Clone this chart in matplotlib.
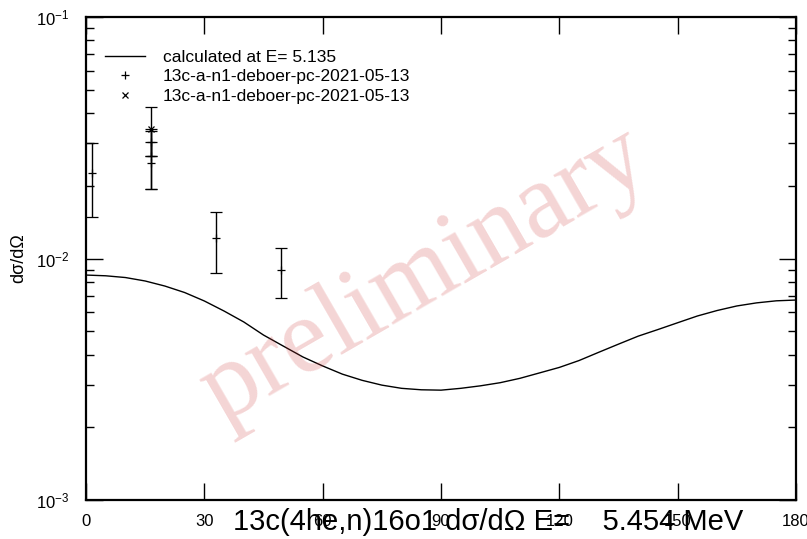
import matplotlib.pyplot as plt
from matplotlib.ticker import LogLocator, NullFormatter

plt.rcParams['font.family'] = ['Liberation Sans', 'DejaVu Sans']
plt.rcParams['mathtext.fontset'] = 'custom'
plt.rcParams['mathtext.rm'] = 'Liberation Sans'
plt.rcParams['mathtext.it'] = 'Liberation Sans:italic'
plt.rcParams['mathtext.bf'] = 'Liberation Sans:bold'

# calculated curve (angle in deg, dsigma/dOmega)
theta_calc = [0, 5, 10, 15, 20, 25, 30, 35, 40, 45, 50, 55, 60, 65, 70, 75,
              80, 85, 90, 95, 100, 105, 110, 115, 120, 125, 130, 135, 140,
              145, 150, 155, 160, 165, 170, 175, 180]
sig_calc = [8.54e-3, 8.48e-3, 8.34e-3, 8.07e-3, 7.69e-3, 7.23e-3, 6.67e-3,
            6.06e-3, 5.46e-3, 4.82e-3, 4.34e-3, 3.91e-3, 3.59e-3, 3.32e-3,
            3.13e-3, 2.99e-3, 2.90e-3, 2.86e-3, 2.85e-3, 2.90e-3, 2.97e-3,
            3.06e-3, 3.19e-3, 3.36e-3, 3.54e-3, 3.78e-3, 4.09e-3, 4.42e-3,
            4.77e-3, 5.08e-3, 5.42e-3, 5.78e-3, 6.09e-3, 6.36e-3, 6.55e-3,
            6.68e-3, 6.73e-3]

# measured data, set 1 (+)
theta_p = [1.6, 16.4, 16.4, 16.4, 33.0, 49.4]
sig_p = [0.0225, 0.0305, 0.0265, 0.0249, 0.01213, 0.00895]
err_p = [0.0076, 0.0040, 0.0071, 0.0055, 0.0034, 0.0021]

# measured data, set 2 (x)
theta_x = [16.4]
sig_x = [0.0344]
err_x = [0.0079]

fig = plt.figure(figsize=(8.07, 5.39), dpi=100)
ax = fig.add_axes([86 / 807, 39 / 539, 710 / 807, 483 / 539])

ax.plot(theta_calc, sig_calc, color='black', lw=1.0,
        label='calculated at E= 5.135')
ax.errorbar(theta_p, sig_p, yerr=err_p, fmt='+', color='black', ms=5.5,
            mew=0.9, elinewidth=1.0, capsize=4, capthick=1.0,
            label='13c-a-n1-deboer-pc-2021-05-13')
ax.errorbar(theta_x, sig_x, yerr=err_x, fmt='x', color='black', ms=4.5,
            mew=0.9, elinewidth=1.0, capsize=4, capthick=1.0,
            label='13c-a-n1-deboer-pc-2021-05-13')

ax.set_yscale('log')
ax.set_xlim(0, 180)
ax.set_ylim(1e-3, 1e-1)
ax.set_xticks([0, 30, 60, 90, 120, 150, 180])
ax.yaxis.set_major_locator(LogLocator(base=10, numticks=10))
ax.yaxis.set_minor_locator(LogLocator(base=10, subs=range(2, 10), numticks=20))
ax.yaxis.set_minor_formatter(NullFormatter())
ax.tick_params(which='both', direction='in', top=True, right=True,
               labelsize=12, width=1.0)
ax.tick_params(which='major', length=12)
ax.tick_params(which='minor', length=6)
ax.tick_params(axis='x', pad=10)
ax.tick_params(axis='y', pad=12)
for s in ax.spines.values():
    s.set_linewidth(1.6)

ax.set_ylabel('dσ/dΩ', fontsize=13, labelpad=6)

# legend: markers only, no errorbar lines in the handles
handles, labels = ax.get_legend_handles_labels()
handles = [handles[0], handles[1][0], handles[2][0]]
ax.legend(handles, labels, loc='upper left', bbox_to_anchor=(-0.007, 0.983),
          frameon=False, fontsize=12.5, handlelength=2.3, handletextpad=1.0,
          labelspacing=0.25, borderaxespad=1.0)

fig.text(488 / 807, 1 - 522 / 539, '13c(4he,n)16o1 dσ/dΩ E=    5.454 MeV',
         fontsize=21, ha='center', va='center')

# watermark
fig.text(0.527, 0.488, 'preliminary', family='Liberation Serif', fontsize=77,
         color='#d04040', alpha=0.22, rotation=30, ha='center', va='center',
         rotation_mode='anchor')

plt.savefig('out.png', dpi=100)
